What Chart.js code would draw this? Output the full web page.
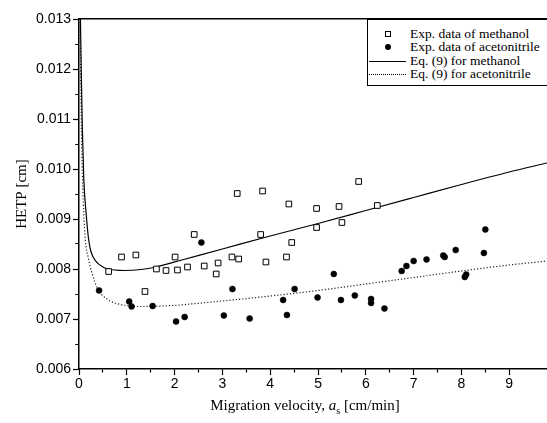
<!DOCTYPE html>
<html>
<head>
<meta charset="utf-8">
<script src="https://cdn.jsdelivr.net/npm/chart.js@4.4.1/dist/chart.umd.min.js"></script>
<style>
  html, body { margin: 0; padding: 0; background: #fff; overflow: hidden; }
  #wrap { position: relative; width: 547px; height: 423px; }
  #legend {
    position: absolute; left: 367px; top: 19px; width: 220px; height: 67px;
    box-sizing: border-box; border: 1px solid #000; background: #fff;
    font-family: "Liberation Serif", "Times New Roman", serif; font-size: 13.5px; color: #000;
    padding-top: 7px;
  }
  .row { position: relative; height: 13.4px; line-height: 13.4px; padding-left: 42px; white-space: nowrap; }
  .sq { position: absolute; left: 17px; top: 4px; width: 4px; height: 4px; border: 1px solid #000; background: #fff; }
  .dot { position: absolute; left: 17px; top: 4px; width: 6px; height: 6px; border-radius: 50%; background: #000; }
  .ln { position: absolute; left: 1px; top: 7px; width: 37px; border-top: 1px solid #000; }
  .dl { position: absolute; left: 1px; top: 7px; width: 37px; border-top: 1px dotted #000; }
  #xtitle {
    position: absolute; left: 0; top: 397px; width: 610px; text-align: center;
    font-family: "Liberation Serif", "Times New Roman", serif; font-size: 15px; color: #000;
  }
</style>
</head>
<body>
<div id="wrap">
  <canvas id="hetpChart" width="547" height="423"></canvas>
  <div id="legend"></div>
  <div id="xtitle">Migration velocity, <i>a</i><sub style="font-size:10px">s</sub> [cm/min]</div>
</div>
<script>
// 凡例ラベル
const seriesLabels = [
  'Exp. data of methanol',
  'Exp. data of acetonitrile',
  'Eq. (9) for methanol',
  'Eq. (9) for acetonitrile'
];

// 実験データ（メタノール）
const methanolX = [0.62, 0.89, 1.19, 1.38, 1.62, 1.82, 2.01, 2.06, 2.27, 2.41, 2.62, 2.87, 2.91, 3.20,
  3.31, 3.34, 3.80, 3.84, 3.91, 4.34, 4.39, 4.45, 4.97, 4.97, 5.44, 5.50, 5.85, 6.24];
const methanolY = [0.00795, 0.00824, 0.00828, 0.00755, 0.00800, 0.00797, 0.00824, 0.00798, 0.00804, 0.00869,
  0.00806, 0.00790, 0.00812, 0.00824, 0.00951, 0.00820, 0.00869, 0.00956, 0.00814, 0.00824, 0.00930,
  0.00853, 0.00921, 0.00883, 0.00925, 0.00893, 0.00975, 0.00927];

// 実験データ（アセトニトリル）
const acetoX = [0.42, 1.05, 1.10, 1.54, 2.03, 2.21, 2.56, 3.03, 3.21, 3.57, 4.27, 4.35, 4.51, 4.99, 5.33,
  5.48, 5.77, 6.11, 6.11, 6.39, 6.75, 6.85, 7.00, 7.27, 7.62, 7.65, 7.88, 8.07, 8.10, 8.47, 8.50];
const acetoY = [0.00757, 0.00735, 0.00725, 0.00726, 0.00695, 0.00704, 0.00853, 0.00707, 0.00760, 0.00701,
  0.00738, 0.00708, 0.00760, 0.00743, 0.00790, 0.00738, 0.00747, 0.00740, 0.00732, 0.00721, 0.00796,
  0.00806, 0.00816, 0.00819, 0.00827, 0.00824, 0.00838, 0.00784, 0.00789, 0.00832, 0.00879];

// Eq.(9) 曲線
const methanolCurveX = [0.03, 0.05, 0.07, 0.10, 0.15, 0.20, 0.25, 0.34, 0.54, 0.75, 0.94, 1.30, 1.61, 2.15,
  3.0, 4.0, 5.0, 6.0, 7.0, 8.0, 9.0, 9.79];
const methanolCurveY = [0.0130, 0.0118, 0.0108, 0.0098, 0.0091, 0.0086, 0.00835, 0.00817, 0.00802, 0.00798,
  0.00797, 0.00799, 0.00804, 0.00818, 0.00840, 0.00866, 0.00891, 0.00917, 0.00943, 0.00969, 0.00994, 0.01012];
const acetoCurveX = [0.02, 0.04, 0.06, 0.08, 0.10, 0.13, 0.20, 0.27, 0.40, 0.60, 0.87, 1.28, 1.95, 2.34,
  3.0, 4.0, 5.0, 6.0, 7.0, 8.0, 9.0, 9.79];
const acetoCurveY = [0.0130, 0.0115, 0.0103, 0.0096, 0.0091, 0.0086, 0.0082, 0.00792, 0.00759, 0.00739,
  0.00729, 0.00725, 0.00727, 0.00730, 0.00736, 0.00746, 0.00757, 0.00770, 0.00783, 0.00796, 0.00808, 0.00816];

const toPoints = (xs, ys) => xs.map((x, i) => ({ x: x, y: ys[i] }));

// 凡例（HTML）
const legendSyms = ['<span class="sq"></span>', '<span class="dot"></span>', '<span class="ln"></span>', '<span class="dl"></span>'];
document.getElementById('legend').innerHTML = seriesLabels
  .map((label, i) => '<div class="row">' + legendSyms[i] + label + '</div>').join('');

const isWhole = (v, step) => Math.abs(v / step - Math.round(v / step)) < 1e-6;

const axisFont = { family: '"Liberation Sans", Arial, sans-serif', size: 14 };

new Chart(document.getElementById('hetpChart').getContext('2d'), {
  type: 'scatter',
  data: {
    datasets: [
      {
        label: seriesLabels[0],
        data: toPoints(methanolX, methanolY),
        pointStyle: 'rect',
        pointRadius: 4,
        borderColor: '#000',
        backgroundColor: '#fff',
        borderWidth: 1
      },
      {
        label: seriesLabels[1],
        data: toPoints(acetoX, acetoY),
        pointStyle: 'circle',
        pointRadius: 3,
        borderColor: '#000',
        backgroundColor: '#000',
        borderWidth: 0.5
      },
      {
        label: seriesLabels[2],
        data: toPoints(methanolCurveX, methanolCurveY),
        showLine: true,
        pointRadius: 0,
        borderColor: '#000',
        borderWidth: 1.2,
        cubicInterpolationMode: 'monotone'
      },
      {
        label: seriesLabels[3],
        data: toPoints(acetoCurveX, acetoCurveY),
        showLine: true,
        pointRadius: 0,
        borderColor: '#222',
        borderWidth: 1.2,
        borderDash: [1.2, 2],
        cubicInterpolationMode: 'monotone'
      }
    ]
  },
  options: {
    responsive: false,
    animation: false,
    layout: { autoPadding: false, padding: { top: 19, left: 0, right: 0, bottom: 0 } },
    plugins: {
      legend: { display: false },
      tooltip: { enabled: false }
    },
    scales: {
      x: {
        type: 'linear',
        position: 'bottom',
        min: 0,
        max: 9.79,
        afterBuildTicks: s => { s.ticks = s.ticks.filter(t => isWhole(t.value, 0.5)); },
        afterFit: s => { s.height = 54; },
        ticks: {
          stepSize: 0.5,
          autoSkip: false,
          maxRotation: 0,
          padding: 1,
          color: '#000',
          font: axisFont,
          callback: v => isWhole(v, 1) ? String(Math.round(v)) : ''
        },
        grid: {
          drawOnChartArea: false,
          tickLength: 6,
          tickColor: '#000',
          tickWidth: 1.2,
          tickBorderDash: ctx => (ctx.tick && isWhole(ctx.tick.value, 1)) ? [] : [3, 20]
        },
        border: { color: '#000', width: 1.5 }
      },
      xTop: {
        type: 'linear',
        position: 'top',
        min: 0,
        max: 9.79,
        afterFit: s => { s.height = 0; },
        ticks: { display: false },
        grid: { drawOnChartArea: false, drawTicks: false },
        border: { color: '#000', width: 1.5 }
      },
      y: {
        type: 'linear',
        position: 'left',
        min: 0.006,
        max: 0.013,
        afterFit: s => { s.width = 79; },
        ticks: {
          stepSize: 0.0005,
          autoSkip: false,
          padding: 2,
          color: '#000',
          font: axisFont,
          callback: v => isWhole(v, 0.001) ? v.toFixed(3) : ''
        },
        grid: {
          drawOnChartArea: false,
          tickLength: 6,
          tickColor: '#000',
          tickWidth: 1.2,
          tickBorderDash: ctx => (ctx.tick && isWhole(ctx.tick.value, 0.001)) ? [] : [0, 2.3, 3, 20]
        },
        border: { color: '#000', width: 1.5 },
        title: {
          display: true,
          text: 'HETP [cm]',
          color: '#000',
          font: { family: '"Liberation Serif", "Times New Roman", serif', size: 15 },
          padding: { top: 13, bottom: 0 }
        }
      }
    }
  }
});
</script>
</body>
</html>
